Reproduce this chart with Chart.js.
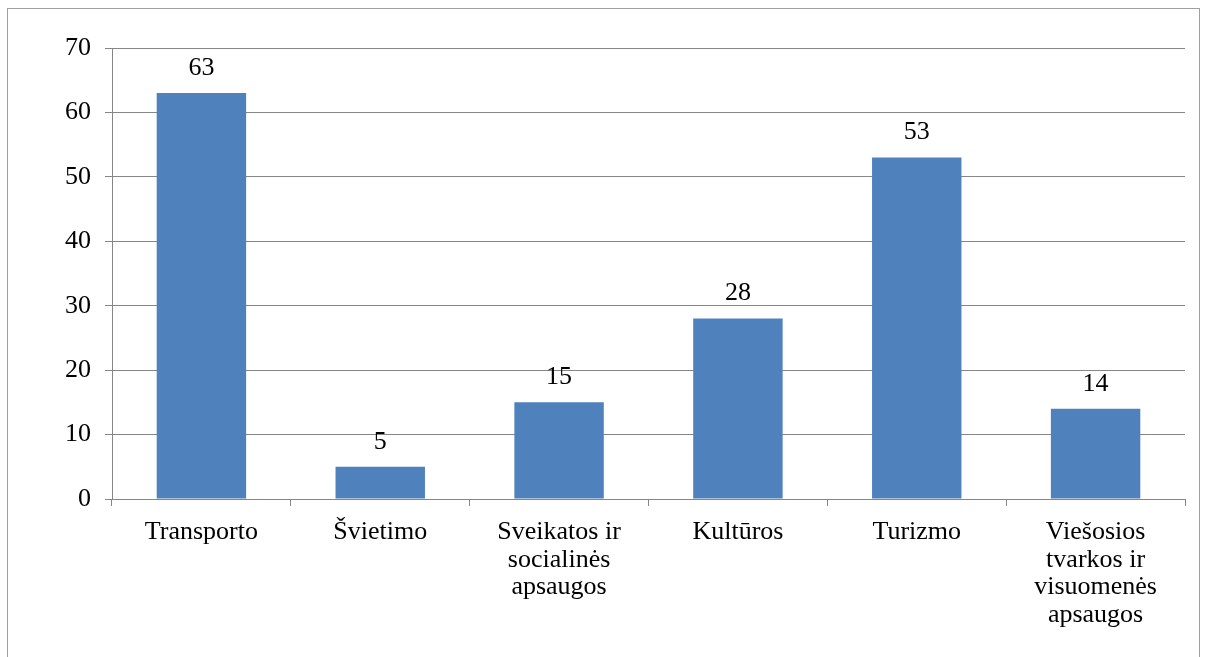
<!DOCTYPE html>
<html>
<head>
<meta charset="utf-8">
<script src="https://cdn.jsdelivr.net/npm/chart.js@4/dist/chart.umd.min.js"></script>
<style>
  html, body { margin: 0; padding: 0; background: #fff; overflow: hidden; }
  #wrap { position: relative; width: 1207px; height: 657px; }
  #ramka { position: absolute; left: 7px; top: 8px; width: 1191px; height: 700px; border: 1px solid #a0a0a0; }
  canvas { position: absolute; left: 0; top: 0; }
</style>
</head>
<body>
<div id="wrap">
  <div id="ramka"></div>
  <canvas id="grafikas" width="1207" height="657"></canvas>
</div>
<script>
// Duomenys
const kategorijos = [
    'Transporto',
    'Švietimo',
    ['Sveikatos ir', 'socialinės', 'apsaugos'],
    'Kultūros',
    'Turizmo',
    ['Viešosios', 'tvarkos ir', 'visuomenės', 'apsaugos']
];
const reiksmes = [63, 5, 15, 28, 53, 14];
const ySkale = { min: 0, max: 70, zingsnis: 10 };

const sriftas = '"Liberation Serif", "Times New Roman", serif';
const pilka = '#868686';

// Skaičiai virš stulpelių
const etiketes = {
    id: 'etiketes',
    afterDatasetsDraw(chart) {
        const ctx = chart.ctx;
        const meta = chart.getDatasetMeta(0);
        ctx.save();
        ctx.font = '26px ' + sriftas;
        ctx.fillStyle = '#000';
        ctx.textAlign = 'center';
        ctx.textBaseline = 'middle';
        meta.data.forEach((bar, i) => {
            ctx.fillText(String(reiksmes[i]), bar.x, bar.y - 25);
        });
        ctx.restore();
    }
};

Chart.defaults.font.family = sriftas;
Chart.defaults.color = '#000';

new Chart(document.getElementById('grafikas'), {
    type: 'bar',
    data: {
        labels: kategorijos,
        datasets: [{
            data: reiksmes,
            backgroundColor: '#4F81BD',
            borderWidth: 0,
            categoryPercentage: 0.5,
            barPercentage: 1
        }]
    },
    options: {
        responsive: false,
        animation: false,
        layout: { padding: { left: 0, top: 48, right: 22, bottom: 0 } },
        plugins: { legend: { display: false }, tooltip: { enabled: false } },
        scales: {
            x: {
                offset: true,
                grid: { offset: true, drawOnChartArea: false, drawTicks: true, tickLength: 7, color: pilka, lineWidth: 1 },
                border: { color: pilka, width: 1 },
                ticks: { font: { family: sriftas, size: 26, lineHeight: 1.07 }, padding: 12, maxRotation: 0, autoSkip: false },
                afterFit(s) { s.height = 657 - 499; }
            },
            y: {
                min: ySkale.min,
                max: ySkale.max,
                ticks: { stepSize: ySkale.zingsnis, font: { family: sriftas, size: 26 }, padding: 14 },
                grid: { color: pilka, lineWidth: 1, tickLength: 7 },
                border: { color: pilka, width: 1 },
                afterFit(s) { s.width = 112; }
            }
        }
    },
    plugins: [etiketes]
});
</script>
</body>
</html>
